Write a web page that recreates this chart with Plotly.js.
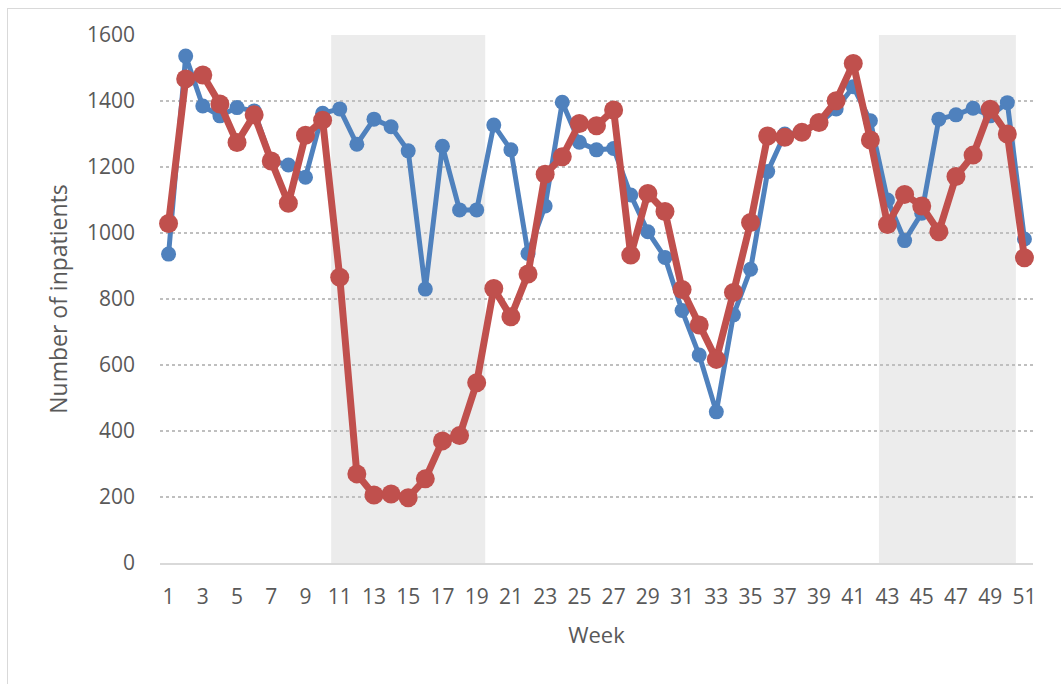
<!DOCTYPE html>
<html>
<head>
<meta charset="utf-8">
<script src="https://cdn.plot.ly/plotly-3.0.1.min.js"></script>
<style>
  html, body { margin: 0; padding: 0; background: #fff; }
  #wrap { position: relative; width: 1061px; height: 684px; }
  #chart { width: 1061px; height: 684px; }
  #frame { position: absolute; left: 7px; top: 8px; width: 1060px; height: 680px; border: 1px solid #d9d9d9; pointer-events: none; }
</style>
</head>
<body>
<div id="wrap"><div id="chart"></div><div id="frame"></div></div>
<script>
const weeks = Array.from({length: 51}, (_, i) => i + 1);

const blueValues = [936, 1536, 1385, 1355, 1380, 1370, 1220, 1206, 1169, 1363,
  1376, 1269, 1345, 1322, 1249, 830, 1263, 1070, 1070, 1327,
  1252, 938, 1082, 1396, 1275, 1252, 1256, 1115, 1004, 926,
  765, 630, 458, 752, 890, 1186, 1300, 1305, 1332, 1376,
  1443, 1340, 1100, 977, 1060, 1345, 1358, 1378, 1355, 1395, 982];

const redValues = [1029, 1467, 1479, 1391, 1274, 1358, 1218, 1090, 1296, 1342,
  866, 270, 206, 209, 198, 255, 370, 386, 546, 832,
  746, 876, 1178, 1231, 1332, 1325, 1373, 933, 1120, 1065,
  829, 721, 617, 820, 1032, 1294, 1290, 1305, 1335, 1401,
  1514, 1282, 1026, 1117, 1082, 1004, 1171, 1236, 1375, 1300, 925];

// shaded periods (first week, last week)
const shadedStart = [11, 43];
const shadedEnd = [19, 50];

const shapes = shadedStart.map((s, i) => ({
  type: 'rect', xref: 'x', yref: 'y',
  x0: s - 0.5, x1: shadedEnd[i] + 0.5, y0: 0, y1: 1600,
  fillcolor: '#ececec', line: {width: 0}, layer: 'below'
}));

const traces = [
  {
    x: weeks, y: blueValues, type: 'scatter', mode: 'lines+markers',
    line: {color: '#4f81bd', width: 5},
    marker: {color: '#4f81bd', size: 15},
    name: 'Blue', showlegend: false, cliponaxis: false
  },
  {
    x: weeks, y: redValues, type: 'scatter', mode: 'lines+markers',
    line: {color: '#c0504d', width: 7},
    marker: {color: '#c0504d', size: 19},
    name: 'Red', showlegend: false, cliponaxis: false
  }
];

const font = {family: 'Open Sans, sans-serif', size: 21, color: '#595959'};
const titleFont = {family: 'Open Sans, sans-serif', size: 22, color: '#595959'};

const layout = {
  width: 1061, height: 684,
  margin: {l: 160, r: 28, t: 35, b: 121},
  paper_bgcolor: '#ffffff', plot_bgcolor: 'rgba(0,0,0,0)',
  font: font,
  shapes: shapes,
  xaxis: {
    range: [0.5, 51.5],
    tickmode: 'linear', tick0: 1, dtick: 2,
    showgrid: false, zeroline: false,
    showline: true, linecolor: '#d9d9d9', linewidth: 2,
    ticks: '', ticklabelstandoff: 14,
    tickfont: font,
    title: {text: 'Week', font: titleFont, standoff: 18}
  },
  yaxis: {
    range: [0, 1600],
    tickmode: 'linear', tick0: 0, dtick: 200,
    showgrid: true, gridcolor: '#bfbfbf', griddash: 'dot', gridwidth: 2,
    zeroline: false, showline: false,
    ticks: '', ticklabelstandoff: 24,
    tickfont: font,
    title: {text: 'Number of inpatients', font: {family: 'Open Sans, sans-serif', size: 23, color: '#595959'}, standoff: 12}
  }
};

Plotly.newPlot('chart', traces, layout, {displayModeBar: false, staticPlot: true});
</script>
</body>
</html>
